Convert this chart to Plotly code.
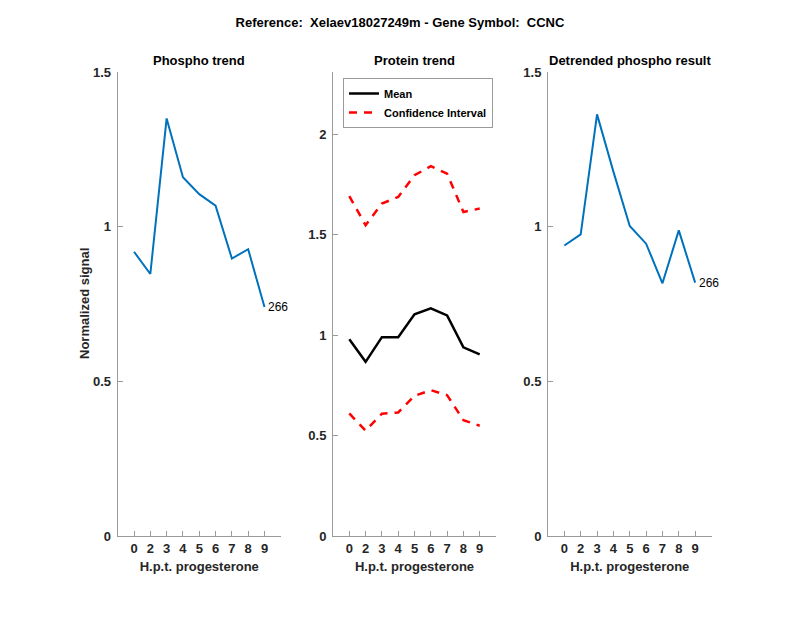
import plotly.graph_objects as go

hours = ["0", "2", "3", "4", "5", "6", "7", "8", "9"]
phospho = [0.919, 0.847, 1.350, 1.160, 1.105, 1.068, 0.897, 0.927, 0.740]
protein_mean = [0.979, 0.867, 0.990, 0.990, 1.104, 1.133, 1.098, 0.939, 0.904]
protein_upper = [1.692, 1.547, 1.655, 1.688, 1.796, 1.841, 1.804, 1.613, 1.630]
protein_lower = [0.610, 0.524, 0.609, 0.615, 0.698, 0.726, 0.701, 0.577, 0.549]
detrended = [0.939, 0.975, 1.363, 1.178, 1.002, 0.945, 0.817, 0.988, 0.819]
peptide_label = "266"

xpos = list(range(1, len(hours) + 1))
BLUE = "#0072BD"
FONT = "Liberation Sans, Arial, sans-serif"

fig = go.Figure()
fig.add_trace(go.Scatter(x=xpos, y=phospho, mode="lines", line=dict(color=BLUE, width=2),
                         showlegend=False, xaxis="x", yaxis="y"))
fig.add_trace(go.Scatter(x=xpos, y=protein_mean, mode="lines", line=dict(color="black", width=2.5),
                         name="Mean", xaxis="x2", yaxis="y2"))
fig.add_trace(go.Scatter(x=xpos, y=protein_upper, mode="lines",
                         line=dict(color="#FF0000", width=2.5, dash="8px,7px"),
                         name="Confidence Interval", xaxis="x2", yaxis="y2"))
fig.add_trace(go.Scatter(x=xpos, y=protein_lower, mode="lines",
                         line=dict(color="#FF0000", width=2.5, dash="8px,7px"),
                         showlegend=False, xaxis="x2", yaxis="y2"))
fig.add_trace(go.Scatter(x=xpos, y=detrended, mode="lines", line=dict(color=BLUE, width=2),
                         showlegend=False, xaxis="x3", yaxis="y3"))

ytop = 1 - 72 / 618
ybot = 1 - 536 / 618
xdoms = [(117.7 / 800, 280.8 / 800), (333 / 800, 496 / 800), (548 / 800, 711.5 / 800)]

axcommon = dict(showgrid=False, zeroline=False, showline=True, linecolor="#9a9a9a", linewidth=1,
                ticks="inside", ticklen=5, tickcolor="#9a9a9a", mirror=False, automargin=False,
                tickfont=dict(family=FONT, size=13, color="#262626", weight="bold"))

layout = dict(
    width=800, height=618, plot_bgcolor="white", paper_bgcolor="white",
    margin=dict(l=0, r=0, t=0, b=0, autoexpand=False),
    font=dict(family=FONT, color="#000000"),
    title=dict(text="Reference:  Xelaev18027249m - Gene Symbol:  CCNC", x=0.5, xanchor="center",
               y=1 - 22 / 618, yanchor="middle", automargin=False,
               font=dict(family=FONT, size=13, color="black", weight="bold")),
    legend=dict(x=343 / 800, y=1 - 78 / 618, xanchor="left", yanchor="top",
                bgcolor="white", bordercolor="#9a9a9a", borderwidth=1,
                font=dict(family=FONT, size=11, color="black", weight="bold"),
                tracegroupgap=0, itemwidth=30),
)
ranges = [[0, 1.5], [0, 2.31], [0, 1.5]]
ytv = [[0, 0.5, 1, 1.5], [0, 0.5, 1, 1.5, 2], [0, 0.5, 1, 1.5]]
for i in range(3):
    sfx = "" if i == 0 else str(i + 1)
    xa = dict(axcommon, domain=list(xdoms[i]), range=[0, 10], tickvals=xpos, ticktext=hours,
              anchor="y" + sfx,
              title=dict(text="H.p.t. progesterone", standoff=7,
                         font=dict(family=FONT, size=13, color="#262626", weight="bold")))
    ya = dict(axcommon, domain=[ybot, ytop], range=ranges[i], tickvals=ytv[i],
              ticktext=[("%g" % v) for v in ytv[i]], anchor="x" + sfx, ticklabelstandoff=3)
    layout["xaxis" + sfx] = xa
    layout["yaxis" + sfx] = ya

fig.update_layout(**layout)

titles = ["Phospho trend", "Protein trend", "Detrended phospho result"]
for i, t in enumerate(titles):
    fig.add_annotation(text=t, xref="paper", yref="paper", x=sum(xdoms[i]) / 2, y=1 - 61 / 618,
                       xanchor="center", yanchor="middle", showarrow=False,
                       font=dict(family=FONT, size=13, color="black", weight="bold"))

fig.add_annotation(text="Normalized signal", xref="paper", yref="paper", x=85 / 800,
                   y=(ytop + ybot) / 2, xanchor="center", yanchor="middle", textangle=-90,
                   showarrow=False, font=dict(family=FONT, size=13, color="#262626", weight="bold"))

fig.add_annotation(text=peptide_label, x=xpos[-1], y=phospho[-1], xref="x", yref="y",
                   xanchor="left", yanchor="middle", xshift=2, showarrow=False,
                   font=dict(family=FONT, size=12, color="black"))
fig.add_annotation(text=peptide_label, x=xpos[-1], y=detrended[-1], xref="x3", yref="y3",
                   xanchor="left", yanchor="middle", xshift=2, showarrow=False,
                   font=dict(family=FONT, size=12, color="black"))

fig.write_html("out.html", config={"displayModeBar": False},
               post_script="document.body.style.margin='0';document.body.style.overflow='hidden';")
